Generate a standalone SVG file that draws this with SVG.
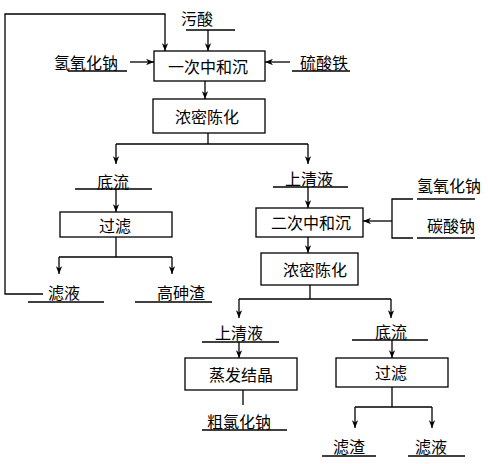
<svg xmlns="http://www.w3.org/2000/svg" width="488" height="464" viewBox="0 0 488 464">
<defs>
<style>
.box{fill:#fff;stroke:#000;stroke-width:1.3}
.ln{fill:none;stroke:#000;stroke-width:1.3}
.ar{fill:none;stroke:#000;stroke-width:1.3;marker-end:url(#ah)}
text{font-family:"Noto Sans CJK SC","Noto Sans",sans-serif;font-size:16px;fill:#000;text-anchor:middle;dominant-baseline:central}
</style>
<marker id="ah" viewBox="0 0 10 8" refX="10" refY="4" markerWidth="8" markerHeight="6.4" markerUnits="userSpaceOnUse" orient="auto">
<path d="M0,0 L10,4 L0,8 L3,4 Z" fill="#000"/>
</marker>
</defs>
<rect width="488" height="464" fill="#fff"/>
<g id="connectors">
<polyline class="ar" points="43,294 5,294 5,14 165,14 165,51"/>
<line class="ar" x1="208" y1="30" x2="208" y2="51"/>
<line class="ar" x1="130" y1="62" x2="154" y2="62"/>
<line class="ar" x1="290" y1="62" x2="265" y2="62"/>
<line class="ar" x1="205" y1="81" x2="205" y2="99"/>
<polyline class="ln" points="208,133 208,144"/>
<line class="ln" x1="116" y1="144" x2="308" y2="144"/>
<line class="ar" x1="116" y1="144" x2="116" y2="164"/>
<line class="ar" x1="308" y1="144" x2="308" y2="164"/>
<line class="ar" x1="116" y1="189" x2="116" y2="212"/>
<polyline class="ln" points="116,237 116,257"/>
<line class="ln" x1="59" y1="257" x2="172" y2="257"/>
<line class="ar" x1="59" y1="257" x2="59" y2="274"/>
<line class="ar" x1="172" y1="257" x2="172" y2="274"/>
<line class="ar" x1="308" y1="187" x2="308" y2="208"/>
<polyline class="ln" points="413,199 392,199 392,238 413,238"/>
<line class="ar" x1="392" y1="221" x2="363" y2="221"/>
<line class="ar" x1="308" y1="237" x2="308" y2="253"/>
<line class="ln" x1="310" y1="285" x2="310" y2="299"/>
<line class="ln" x1="239" y1="299" x2="391" y2="299"/>
<line class="ar" x1="239" y1="299" x2="239" y2="318"/>
<line class="ar" x1="391" y1="299" x2="391" y2="318"/>
<line class="ar" x1="239" y1="342" x2="239" y2="358"/>
<line class="ln" x1="243" y1="390" x2="243" y2="405"/>
<line class="ar" x1="392" y1="340" x2="392" y2="358"/>
<line class="ln" x1="392" y1="387" x2="392" y2="407"/>
<line class="ln" x1="355" y1="407" x2="432" y2="407"/>
<line class="ar" x1="355" y1="407" x2="355" y2="428"/>
<line class="ar" x1="432" y1="407" x2="432" y2="428"/>
<line class="ln" x1="186" y1="30" x2="235" y2="30"/>
<line class="ln" x1="68" y1="71" x2="127" y2="71"/>
<line class="ln" x1="292" y1="71" x2="350" y2="71"/>
<line class="ln" x1="75" y1="189" x2="152" y2="189"/>
<line class="ln" x1="28" y1="302" x2="104" y2="302"/>
<line class="ln" x1="135" y1="302" x2="212" y2="302"/>
<line class="ln" x1="273" y1="187" x2="348" y2="187"/>
<line class="ln" x1="417" y1="199" x2="475" y2="199"/>
<line class="ln" x1="417" y1="238" x2="475" y2="238"/>
<line class="ln" x1="202" y1="342" x2="279" y2="342"/>
<line class="ln" x1="202" y1="430" x2="287" y2="430"/>
<line class="ln" x1="352" y1="340" x2="428" y2="340"/>
<line class="ln" x1="322" y1="456" x2="376" y2="456"/>
<line class="ln" x1="408" y1="456" x2="465" y2="456"/>
</g>
<g id="n-wusuan"><text x="197" y="18">污酸</text></g>
<g id="n-naoh1"><text x="86" y="62">氢氧化钠</text></g>
<g id="n-fe"><text x="324" y="62">硫酸铁</text></g>
<g id="n-neut1"><rect class="box" x="154" y="51" width="111" height="30"/><text x="208" y="66">一次中和沉</text></g>
<g id="n-thick1"><rect class="box" x="153" y="99" width="112" height="34"/><text x="207" y="116">浓密陈化</text></g>
<g id="n-under1"><text x="113" y="181">底流</text></g>
<g id="n-filter1"><rect class="box" x="60" y="212" width="112" height="25"/><text x="115" y="225">过滤</text></g>
<g id="n-filtrate1"><text x="64" y="292">滤液</text></g>
<g id="n-as"><text x="181" y="292">高砷渣</text></g>
<g id="n-super1"><text x="309" y="178">上清液</text></g>
<g id="n-naoh2"><text x="449" y="185">氢氧化钠</text></g>
<g id="n-na2co3"><text x="451" y="225">碳酸钠</text></g>
<g id="n-neut2"><rect class="box" x="256" y="208" width="107" height="29"/><text x="311" y="222">二次中和沉</text></g>
<g id="n-thick2"><rect class="box" x="261" y="253" width="97" height="32"/><text x="315" y="269">浓密陈化</text></g>
<g id="n-super2"><text x="239" y="332">上清液</text></g>
<g id="n-evap"><rect class="box" x="185" y="358" width="112" height="32"/><text x="241" y="374">蒸发结晶</text></g>
<g id="n-nacl"><text x="239" y="421">粗氯化钠</text></g>
<g id="n-under2"><text x="391" y="331">底流</text></g>
<g id="n-filter2"><rect class="box" x="336" y="358" width="112" height="29"/><text x="391" y="372">过滤</text></g>
<g id="n-residue"><text x="349" y="446">滤渣</text></g>
<g id="n-filtrate2"><text x="431" y="446">滤液</text></g>
</svg>
